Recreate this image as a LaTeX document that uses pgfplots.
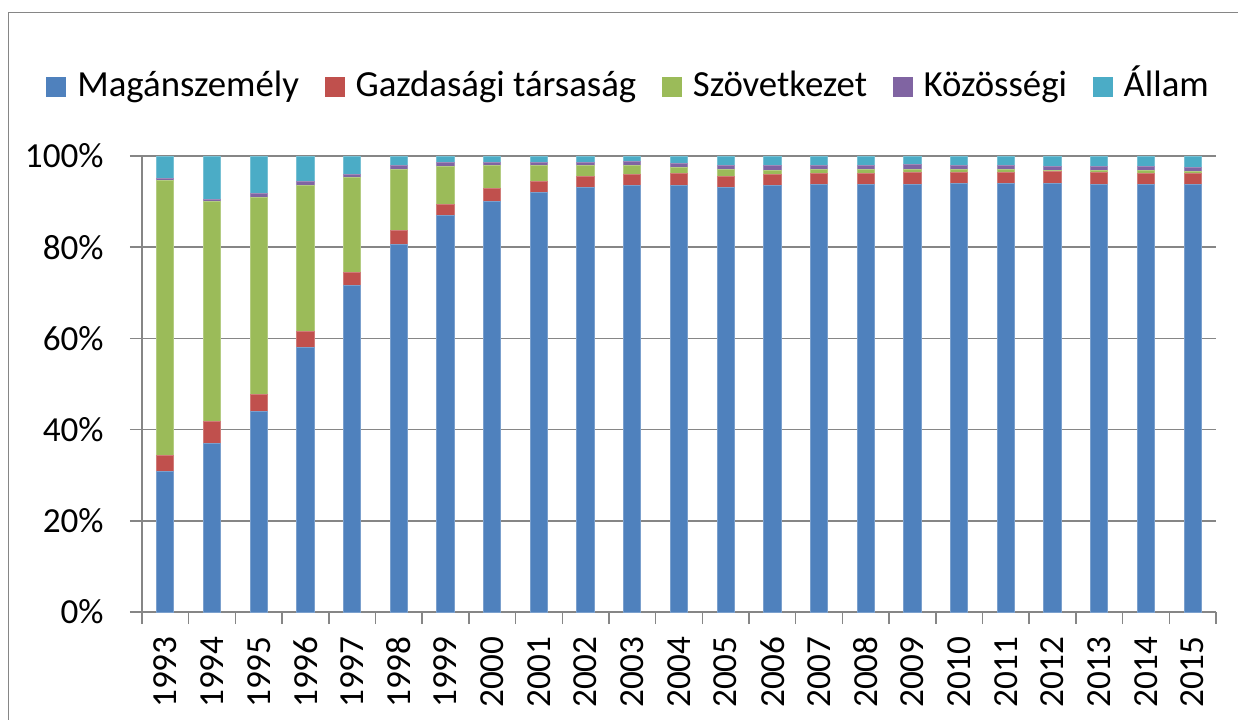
\documentclass[border=0pt]{standalone}
\usepackage{fontspec}
\setmainfont{Carlito}
\usepackage{pgfplots}
\usepackage{pgfplotstable}
\pgfplotsset{compat=1.18}
\definecolor{cBlue}{HTML}{4F81BD}
\definecolor{cRed}{HTML}{C0504D}
\definecolor{cGreen}{HTML}{9BBB59}
\definecolor{cPurple}{HTML}{8064A2}
\definecolor{cCyan}{HTML}{4BACC6}
\definecolor{gridgray}{HTML}{868686}

\pgfplotstableread{
x blue red green purple cyan
0  30.9 3.5 60.3 0.3 5.0
1  37.0 4.7 48.3 0.4 9.6
2  43.9 3.9 43.2 0.8 8.2
3  58.0 3.5 32.0 0.9 5.6
4  71.7 2.7 20.8 0.7 4.1
5  80.7 2.9 13.5 0.8 2.1
6  86.9 2.5 8.2 1.0 1.4
7  90.1 2.7 5.1 0.6 1.5
8  91.9 2.5 3.5 0.6 1.5
9  93.0 2.4 2.5 0.6 1.5
10 93.5 2.5 1.9 0.9 1.2
11 93.5 2.7 1.2 1.0 1.6
12 93.2 2.4 1.5 0.8 2.1
13 93.5 2.4 1.0 1.0 2.1
14 93.7 2.5 0.9 0.8 2.1
15 93.7 2.5 0.9 0.8 2.1
16 93.7 2.7 0.7 1.0 1.9
17 93.9 2.5 0.7 0.8 2.1
18 93.9 2.5 0.7 0.8 2.1
19 93.9 2.6 0.4 0.7 2.4
20 93.7 2.7 0.5 0.7 2.4
21 93.7 2.5 0.7 0.7 2.4
22 93.7 2.4 0.5 0.8 2.6
}\data

\pgfplotsset{sqlegend/.style={legend image code/.code={\path[##1,draw=none] (0pt,0pt) rectangle (10pt,10pt);}}}

\begin{document}
\begin{tikzpicture}
\begin{axis}[
  at={(0pt,0pt)}, anchor=south west,
  scale only axis, width=537pt, height=228pt,
  xmin=-0.5, xmax=22.5, ymin=0, ymax=100,
  ybar stacked, bar width=8.65pt,
  axis x line*=bottom, axis y line*=left,
  axis line style={draw=gridgray, line width=0.75pt, -},
  ymajorgrids, grid style={draw=gridgray, line width=0.75pt},
  tick align=outside, major tick length=6pt,
  tick style={draw=gridgray, line width=0.75pt},
  ytick={0,20,40,60,80,100},
  yticklabels={0\%,20\%,40\%,60\%,80\%,100\%},
  xtick={-0.5,0.5,...,22.5},
  x tick label as interval,
  xticklabels={1993,1994,1995,1996,1997,1998,1999,2000,2001,2002,2003,2004,2005,2006,2007,2008,2009,2010,2011,2012,2013,2014,2015},
  ticklabel style={font=\fontsize{17.6pt}{20pt}\selectfont},
  yticklabel style={anchor=east, inner sep=0pt, xshift=-13pt},
  xticklabel style={rotate=90, anchor=east, inner sep=0pt, xshift=-6pt},
  /pgf/number format/assume math mode=true,
  legend columns=5,
  legend cell align=left,
  legend style={at={(-0.0894,1.1602)}, anchor=west, draw=none, fill=none,
    font=\fontsize{18.4pt}{22pt}\selectfont, inner sep=0pt,
    nodes={inner sep=0pt, anchor=base west},
    cells={anchor=base west},
    /tikz/every odd column/.append style={column sep=5.5pt},
    /tikz/every even column/.append style={column sep=12.8pt}},
]
\addplot[fill=cBlue, draw=cBlue!75!white, line width=0.5pt, sqlegend] table[x=x,y=blue]{\data};
\addplot[fill=cRed, draw=cRed!75!white, line width=0.5pt, sqlegend] table[x=x,y=red]{\data};
\addplot[fill=cGreen, draw=cGreen!75!white, line width=0.5pt, sqlegend] table[x=x,y=green]{\data};
\addplot[fill=cPurple, draw=cPurple!75!white, line width=0.5pt, sqlegend] table[x=x,y=purple]{\data};
\addplot[fill=cCyan, draw=cCyan!75!white, line width=0.5pt, sqlegend] table[x=x,y=cyan]{\data};
\legend{Magánszemély,Gazdasági társaság,Szövetkezet,Közösségi,Állam}
\end{axis}
\pgfresetboundingbox
\path[use as bounding box] (-71pt,-53.5pt) rectangle (548pt,306pt);
\draw[gridgray, line width=0.75pt] (-66.75pt,-60pt) -- (-66.75pt,299.75pt) -- (560pt,299.75pt);
\end{tikzpicture}
\end{document}
